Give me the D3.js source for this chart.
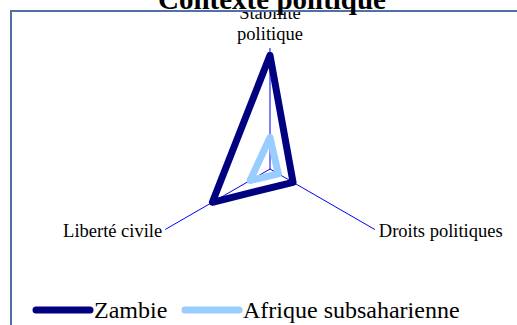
<!DOCTYPE html>
<html>
<head>
<meta charset="utf-8">
<script src="https://cdn.jsdelivr.net/npm/d3@7"></script>
<style>
  body { margin: 0; background: #fff; }
  svg { display: block; font-family: 'Liberation Serif', 'Times New Roman', serif; }
</style>
</head>
<body>
<div id="chart"></div>
<script>
let svgWidth = 517;
let svgHeight = 325;

// axes of the radar, clockwise from top
let axes = ['Stabilité politique', 'Droits politiques', 'Liberté civile'];
let seriesNames = ['Zambie', 'Afrique subsaharienne'];
let zambie = [0.94, 0.22, 0.55];
let afrique = [0.26, 0.08, 0.19];
let colors = ['#000080', '#99ccff'];

let center = { x: 270, y: 169 };
let radius = 121;

let svg = d3.select('#chart')
  .append('svg')
  .attr('width', svgWidth)
  .attr('height', svgHeight);

svg.append('defs').append('clipPath')
  .attr('id', 'frame')
  .append('rect')
  .attr('x', 12)
  .attr('y', 12)
  .attr('width', svgWidth)
  .attr('height', svgHeight);

// frame
svg.append('rect')
  .attr('x', 11)
  .attr('y', 11)
  .attr('width', svgWidth + 10)
  .attr('height', svgHeight + 10)
  .attr('fill', 'none')
  .attr('stroke', '#4f72a6')
  .attr('stroke-width', 2);

svg.append('text')
  .attr('x', 272)
  .attr('y', 9)
  .attr('text-anchor', 'middle')
  .attr('font-size', 29)
  .attr('font-weight', 'bold')
  .text('Contexte politique');

let plot = svg.append('g')
  .attr('clip-path', 'url(#frame)')
  .append('g')
  .attr('transform', `translate(${center.x}, ${center.y})`);

let rScale = d3.scaleLinear()
  .domain([0, 1])
  .range([0, radius]);

let angle = d3.scalePoint()
  .domain(axes)
  .range([0, 2 * Math.PI * (axes.length - 1) / axes.length]);

function point(a, v) {
  let t = angle(a) - Math.PI / 2;
  return [Math.cos(t) * rScale(v), Math.sin(t) * rScale(v)];
}

// spokes
plot.selectAll('.spoke')
  .data(axes)
  .enter()
  .append('line')
  .attr('x1', 0)
  .attr('y1', 0)
  .attr('x2', d => point(d, 1)[0])
  .attr('y2', d => point(d, 1)[1])
  .attr('stroke', '#0000ff')
  .attr('stroke-width', 1);

let line = d3.line().curve(d3.curveLinearClosed);

let series = [zambie, afrique];
plot.selectAll('.serie')
  .data(series)
  .enter()
  .append('path')
  .attr('d', vals => line(axes.map((a, i) => point(a, vals[i]))))
  .attr('fill', 'none')
  .attr('stroke', (d, i) => colors[i])
  .attr('stroke-width', 7)
  .attr('stroke-linejoin', 'round');

// axis labels
let topEnd = point(axes[0], 1);
let stab = plot.append('text')
  .attr('x', topEnd[0])
  .attr('y', topEnd[1] - 29)
  .attr('text-anchor', 'middle')
  .attr('font-size', 18.5);
stab.append('tspan').attr('x', topEnd[0]).text('Stabilité');
stab.append('tspan').attr('x', topEnd[0]).attr('dy', 21).text('politique');

let rightEnd = point(axes[1], 1);
plot.append('text')
  .attr('x', rightEnd[0] + 4)
  .attr('y', rightEnd[1] + 7.5)
  .attr('font-size', 18.5)
  .text(axes[1]);

let leftEnd = point(axes[2], 1);
plot.append('text')
  .attr('x', leftEnd[0] - 3)
  .attr('y', leftEnd[1] + 7.5)
  .attr('text-anchor', 'end')
  .attr('font-size', 18.5)
  .text(axes[2]);

// legend
let legendX = [33, 182];
let legend = svg.selectAll('.legend')
  .data(seriesNames)
  .enter()
  .append('g')
  .attr('transform', (d, i) => `translate(${legendX[i]}, 310)`);

legend.append('line')
  .attr('x1', 3)
  .attr('x2', 57)
  .attr('stroke', (d, i) => colors[i])
  .attr('stroke-width', 7)
  .attr('stroke-linecap', 'round');

legend.append('text')
  .attr('x', 61)
  .attr('y', 8)
  .attr('font-size', 24)
  .text(d => d);
</script>
</body>
</html>
